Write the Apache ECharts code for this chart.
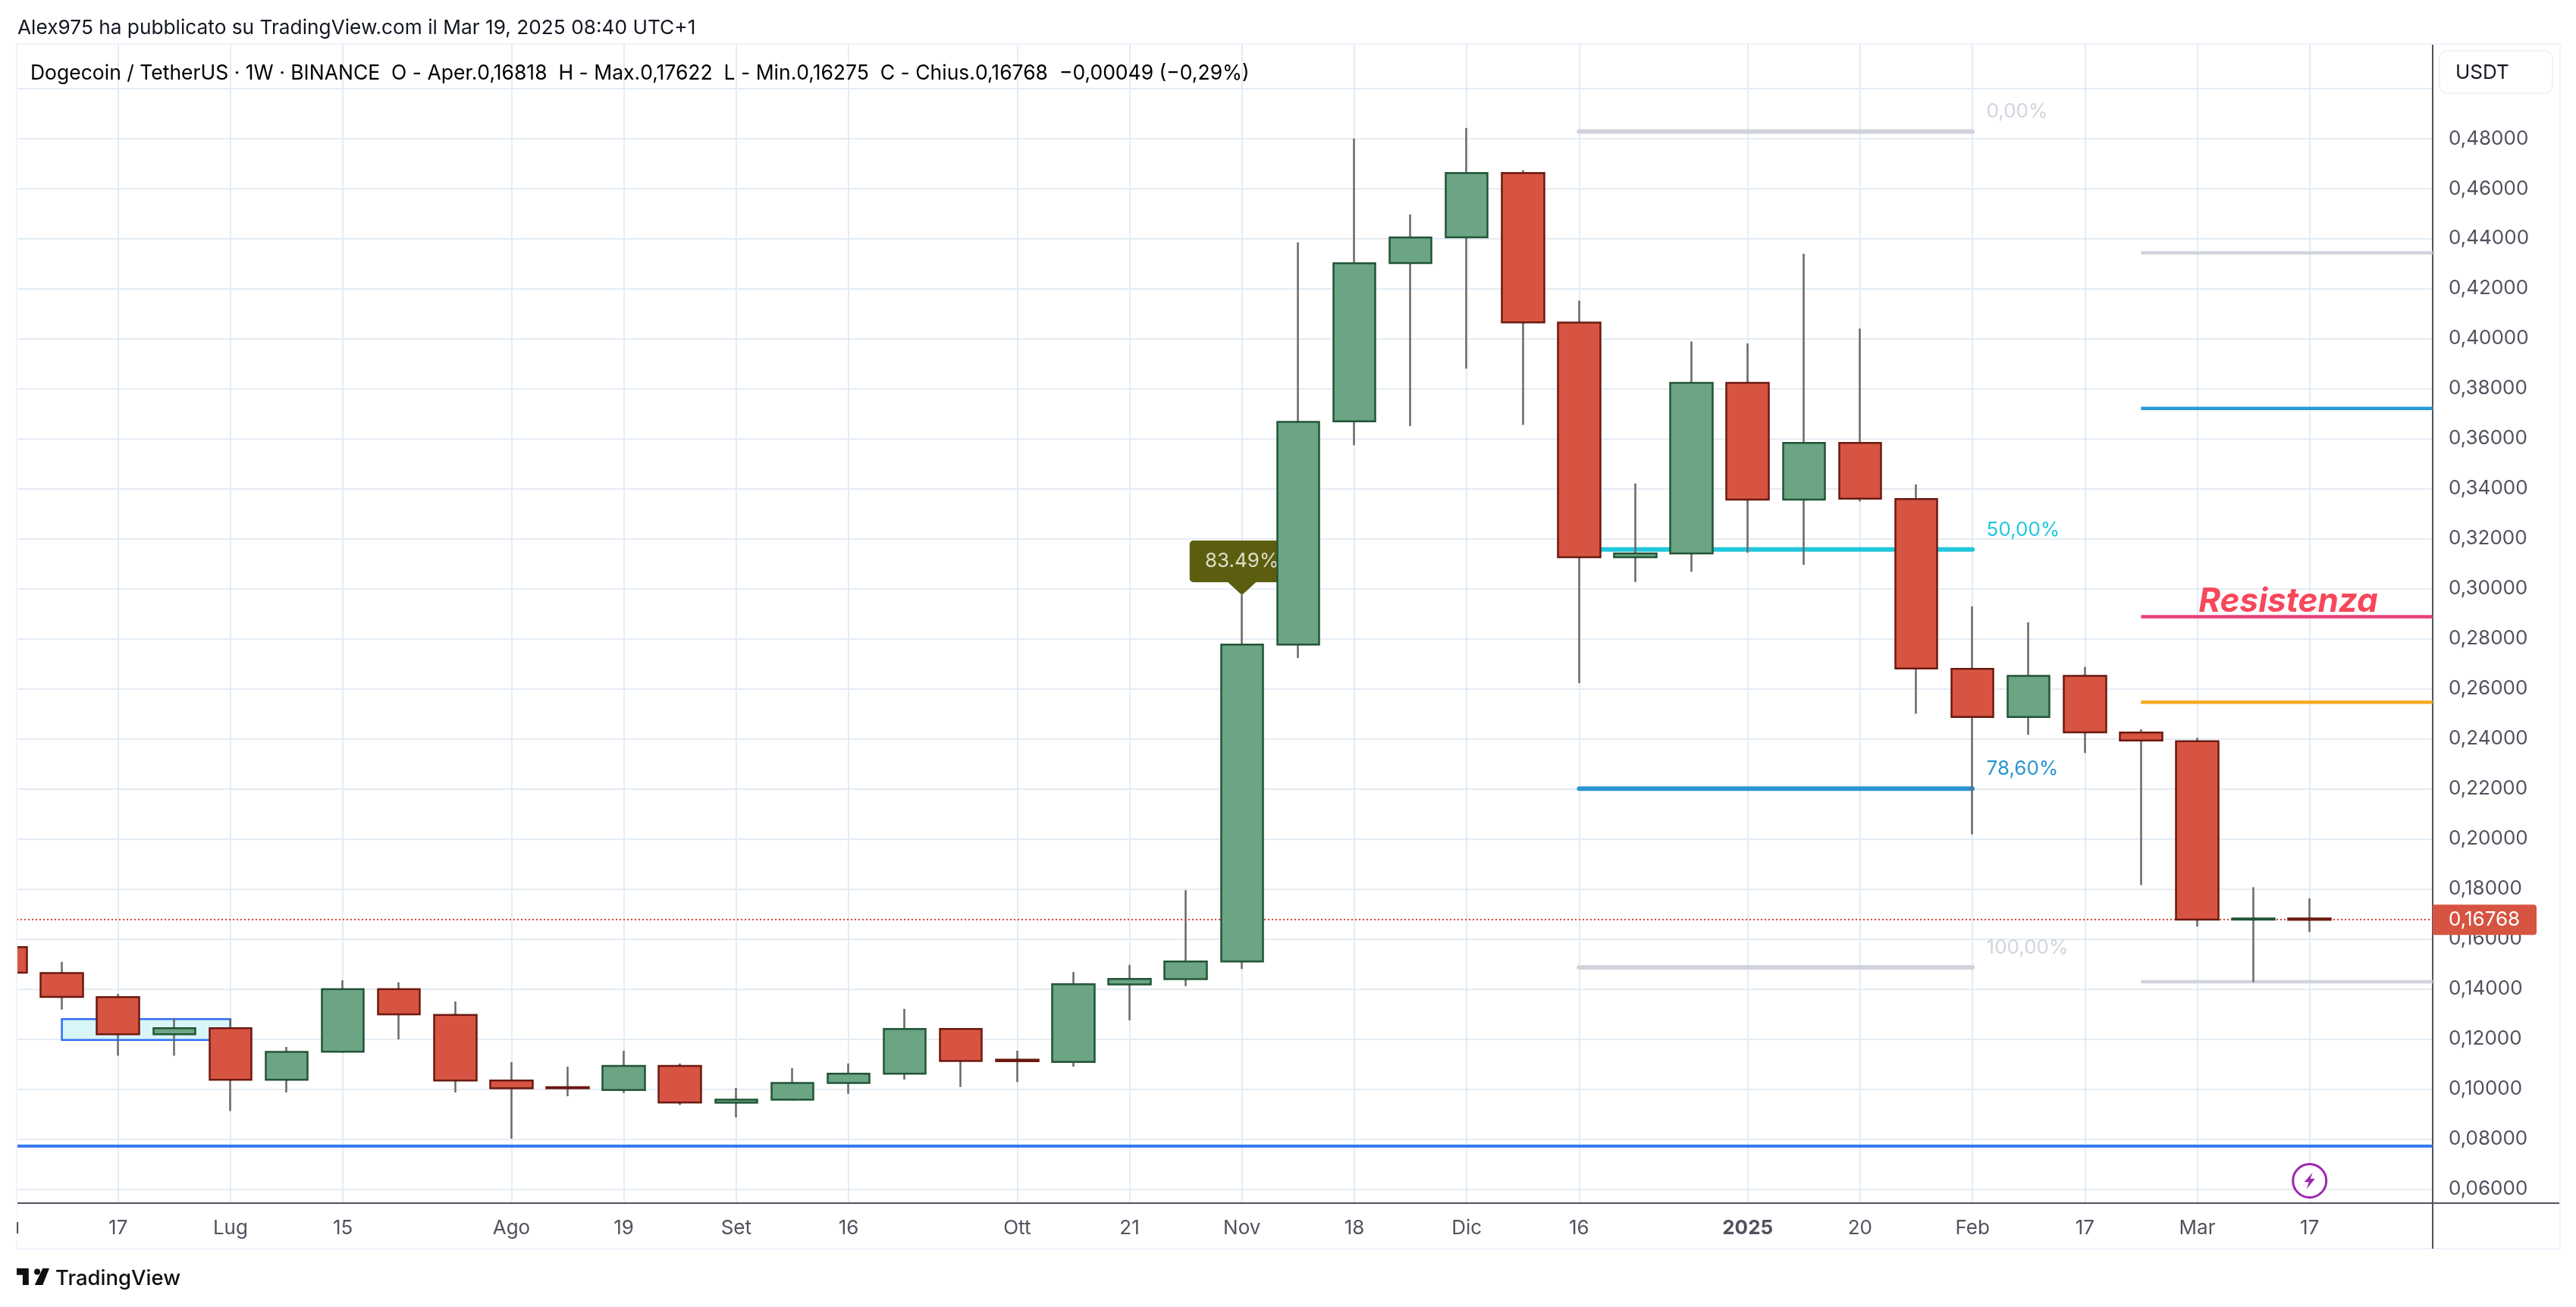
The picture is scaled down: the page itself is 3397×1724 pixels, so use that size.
<!DOCTYPE html>
<html><head><meta charset="utf-8">
<style>html,body{margin:0;padding:0;background:#fff}#c{width:3397px;height:1724px}</style>
<script src="https://cdn.jsdelivr.net/npm/echarts@6/dist/echarts.min.js"></script>
</head><body><div id="c"></div>
<script>
const FONT = 'Inter, "Noto Sans", sans-serif';
const weeks = ['2024-06-03','2024-06-10','2024-06-17','2024-06-24','2024-07-01','2024-07-08','2024-07-15','2024-07-22','2024-07-29','2024-08-05','2024-08-12','2024-08-19','2024-08-26','2024-09-02','2024-09-09','2024-09-16','2024-09-23','2024-09-30','2024-10-07','2024-10-14','2024-10-21','2024-10-28','2024-11-04','2024-11-11','2024-11-18','2024-11-25','2024-12-02','2024-12-09','2024-12-16','2024-12-23','2024-12-30','2025-01-06','2025-01-13','2025-01-20','2025-01-27','2025-02-03','2025-02-10','2025-02-17','2025-02-24','2025-03-03','2025-03-10','2025-03-17'];
const opens  = [.1567,.14635,.1367,.1219,.1243,.1037,.1149,.1399,.1296,.1034,.1007,.0996,.1092,.0945,.0957,.1024,.1061,.1240,.1117,.1108,.1418,.1439,.1510,.2777,.3669,.4302,.4405,.4662,.4064,.3126,.3141,.3823,.3356,.3583,.3359,.2680,.2487,.2652,.2425,.2390,.1677,.16818];
const closes = [.1465,.1368,.1219,.1243,.1037,.1148,.1399,.1298,.1034,.1003,.1003,.1092,.0946,.0957,.1024,.1061,.1240,.1112,.1111,.1419,.1440,.1510,.2777,.3667,.4301,.4404,.4662,.4065,.3126,.3141,.3823,.3356,.3583,.3360,.2681,.2487,.2652,.2426,.2393,.1677,.16818,.16768];
const lows   = [.1455,.1317,.1133,.1133,.0912,.0986,.1145,.1198,.0986,.0801,.0971,.0984,.0936,.0886,.0957,.0981,.1038,.1008,.1028,.1089,.1275,.1411,.1480,.2723,.3574,.3650,.3880,.3655,.2623,.3027,.3068,.3144,.3096,.3349,.2500,.2018,.2416,.2343,.1815,.1650,.1427,.16275];
const highs  = [.1580,.1508,.1380,.1284,.1280,.1168,.1435,.1426,.1350,.1107,.1089,.1153,.1102,.1004,.1083,.1102,.1320,.1244,.1153,.1468,.1496,.1795,.2976,.4385,.4800,.4497,.4842,.4673,.4152,.3421,.3988,.3981,.4339,.4040,.3417,.2930,.2866,.2687,.2438,.2404,.1807,.17622];
const xLabelDates = ['2024-06-17','2024-07-01','2024-07-15','2024-08-05','2024-08-19','2024-09-02','2024-09-16','2024-10-07','2024-10-21','2024-11-04','2024-11-18','2024-12-02','2024-12-16','2025-01-06','2025-01-20','2025-02-03','2025-02-17','2025-03-03','2025-03-17'];
const xLabelTexts = ['17','Lug','15','Ago','19','Set','16','Ott','21','Nov','18','Dic','16','2025','20','Feb','17','Mar','17'];
const yTicks = [.06,.08,.10,.12,.14,.16,.18,.20,.22,.24,.26,.28,.30,.32,.34,.36,.38,.40,.42,.44,.46,.48,.50];
const yLabelTicks = yTicks.slice(0,-1);
const lastPrice = .16768;
const fibLevels = [.4828,.3157,.2201,.1486];
const fibTexts = ['0,00%','50,00%','78,60%','100,00%'];
const fibColors = ['#D1D4DC','#22C7DD','#2A95CF','#D1D4DC'];
const fibSpan = ['2024-12-16','2025-02-03'];
const rayLevels = [.4343,.3721,.2888,.2546,.1429];
const rayColors = ['#D1D4DC','#2A9AD5','#E8407A','#F9A825','#D1D4DC'];
const rayStart = '2025-02-24';
const supportLevel = .0772;
const boxDates = ['2024-06-10','2024-07-01'];
const boxPrices = [.1279,.1196];
const axisMin = 0.1957, axisMax = 43.19;
const bullFill='#6BA583', bullEdge='#225437', bearFill='#D75442', bearEdge='#6B1A11', wick='#68686A';

const X = d => weeks.indexOf(d);
const labelMap = {}; xLabelDates.forEach((d,i)=>{labelMap[X(d)]=xLabelTexts[i]});
const xTickIdx = xLabelDates.map(X);
const wicks = weeks.map((d,i)=>[i,opens[i],closes[i],lows[i],highs[i]]);
const bodies = weeks.map((d,i)=>[i,opens[i],closes[i],Math.min(opens[i],closes[i]),Math.max(opens[i],closes[i])]);
const series = [];
series.push({type:'line',name:'support',silent:true,showSymbol:false,z:1,
  data:[[axisMin,supportLevel],[axisMax,supportLevel]],lineStyle:{color:'#3277F0',width:4},
  markArea:{silent:true,itemStyle:{color:'#D8F5F9',opacity:1,borderColor:'#2F6FF5',borderWidth:2.5},
    data:[[{coord:[X(boxDates[0]),boxPrices[0]]},{coord:[X(boxDates[1]),boxPrices[1]]}]]}});
fibLevels.forEach((v,i)=>series.push({type:'line',silent:true,showSymbol:false,z:2,
  data:[[X(fibSpan[0]),v],[X(fibSpan[1]),v]],lineStyle:{color:fibColors[i],width:6,cap:'round'}}));
rayLevels.forEach((v,i)=>series.push({type:'line',silent:true,showSymbol:false,z:2,
  data:[[X(rayStart),v],[axisMax,v]],lineStyle:{color:rayColors[i],width:4.5}}));
series.push({type:'scatter',silent:true,z:2,symbolSize:1,itemStyle:{color:'transparent'},
  data:fibLevels.map((v,i)=>({value:[X(fibSpan[1]),v],label:{show:true,position:'right',distance:18,offset:[0,-26],
    formatter:fibTexts[i],color:fibColors[i],opacity:1,fontSize:26,fontFamily:FONT}}))});
series.push({type:'scatter',silent:true,z:3,symbol:'triangle',symbolRotate:180,symbolSize:[37,17],symbolOffset:[0,-8],
  itemStyle:{color:'#5D5D10',opacity:1},data:[{value:[X('2024-11-04'),highs[22]],label:{show:true,position:'top',distance:0,
    formatter:'83.49%',color:'#DEDECB',opacity:1,fontSize:26,fontFamily:FONT,backgroundColor:'#5D5D10',borderRadius:5,width:138,height:55,lineHeight:55,align:'center'}}]});
series.push({type:'candlestick',silent:true,z:4,barWidth:2,data:wicks,
  itemStyle:{color:wick,color0:wick,borderColor:wick,borderColor0:wick,borderWidth:2.5}});
series.push({type:'candlestick',silent:true,z:5,barWidth:56,data:bodies,
  itemStyle:{color:bullFill,color0:bearFill,borderColor:bullEdge,borderColor0:bearEdge,borderWidth:2.5},
  markLine:{silent:true,symbol:'none',animation:false,precision:5,
    lineStyle:{color:'#D9472F',type:[2,3],width:2},
    data:[{yAxis:lastPrice}],
    label:{show:true,position:'end',distance:0,formatter:()=>lastPrice.toFixed(5).replace('.',','),color:'#fff',fontSize:26,fontFamily:FONT,
      backgroundColor:bearFill,padding:[6,0,6,21],width:116,lineHeight:28,borderRadius:[0,4,4,0]}}});
series.push({type:'scatter',silent:true,z:6,symbolSize:1,itemStyle:{color:'transparent'},
  data:[{value:[X('2025-03-10')+0.62,.2947],label:{show:true,position:'inside',formatter:'Resistenza',color:'#F7475A',opacity:1,fontSize:44,fontWeight:'bold',fontStyle:'italic',fontFamily:FONT}}]});
series.push({type:'scatter',silent:true,z:6,symbol:'circle',symbolSize:44,itemStyle:{color:'#fff',opacity:1,borderColor:'#9C27B0',borderWidth:3},data:[[X('2025-03-17'),.0633]]});
series.push({type:'scatter',silent:true,z:7,symbol:'path://M14 0 L3 14 H9 L6 24 L17 9 H11 Z',symbolSize:[14,22],itemStyle:{color:'#9C27B0',opacity:1},data:[[X('2025-03-17'),.0633]]});

const legendRich={g:{fontSize:26.5,color:'#50535E',fontFamily:FONT},r:{fontSize:26.5,color:'#6B1A11',fontFamily:FONT}};
const legendText='{g|Dogecoin / TetherUS · 1W · BINANCE  O - Aper.}{r|0,16818}{g|  H - Max.}{r|0,17622}{g|  L - Min.}{r|0,16275}{g|  C - Chius.}{r|0,16768}{r|  −0,00049 (−0,29%)}';
const chrome='#F0F3FA', axisC='#50535E';
const logoT=[[2,6],[14,6],[14,21],[8,21],[8,12],[2,12]], logoV=[[20,21],[28,21],[34.6,6],[28,6]];
const logoPt=p=>[22+(p[0]-2)*1.319,1673+(p[1]-6)*1.467];
const chart=echarts.init(document.getElementById('c'),null,{renderer:'canvas'});
chart.setOption({
  animation:false,backgroundColor:'#fff',
  grid:{left:22,right:189,top:58,bottom:137.3,containLabel:false},
  xAxis:{type:'value',min:axisMin,max:axisMax,scale:true,
    axisLine:{show:true,onZero:false,lineStyle:{color:axisC,width:2}},
    axisTick:{show:false,customValues:xTickIdx},
    splitLine:{show:true,showMinLine:true,showMaxLine:true,lineStyle:{color:'#E4ECF3',width:2}},
    axisLabel:{customValues:xTickIdx,margin:20,hideOverlap:false,showMinLabel:true,showMaxLabel:true,
      color:axisC,fontSize:26,fontFamily:FONT,
      formatter:v=>{const t=labelMap[v]||'';return t==='2025'?'{b|2025}':t},
      rich:{b:{fontWeight:'bold',fontSize:26,color:axisC,fontFamily:FONT}}}},
  yAxis:{type:'value',position:'right',min:.05445,max:.5178,scale:true,
    axisLine:{show:true,onZero:false,lineStyle:{color:axisC,width:2}},
    axisTick:{show:false,customValues:yTicks},
    splitLine:{show:true,showMinLine:true,showMaxLine:true,lineStyle:{color:'#E4ECF3',width:2}},
    axisLabel:{customValues:yLabelTicks,margin:21,showMinLabel:true,showMaxLabel:true,color:axisC,fontSize:26,fontFamily:FONT,
      formatter:v=>v.toFixed(5).replace('.',',')}},
  series,
  graphic:[
    {type:'text',z:100,left:23,top:24,style:{text:'Alex975 ha pubblicato su TradingView.com il Mar 19, 2025 08:40 UTC+1',fontSize:26.25,fill:'#131722',fontFamily:FONT}},
    {type:'text',z:100,left:40,top:84,style:{text:legendText,rich:legendRich,fontFamily:FONT,fontSize:26.5}},
    {type:'rect',z:92,shape:{x:0,y:59,width:21,height:1527},style:{fill:'#fff'}},
    {type:'rect',z:90,shape:{x:22,y:57,width:3353,height:2},style:{fill:chrome}},
    {type:'rect',z:93,shape:{x:21,y:57,width:2,height:1590},style:{fill:chrome}},
    {type:'rect',z:90,shape:{x:3375,y:57,width:2,height:1590},style:{fill:chrome}},
    {type:'rect',z:90,shape:{x:22,y:1646,width:3355,height:2},style:{fill:chrome}},
    {type:'rect',z:90,shape:{x:3208,y:1586,width:167,height:2},style:{fill:axisC}},
    {type:'rect',z:90,shape:{x:3207,y:1587,width:2,height:60},style:{fill:axisC}},
    {type:'text',z:95,left:-15,top:1606,style:{text:'Giu',fontSize:26,fill:axisC,fontFamily:FONT}},
    {type:'rect',z:96,shape:{x:0,y:1590,width:22,height:50},style:{fill:'#fff'}},
    {type:'rect',z:90,shape:{x:3217,y:67,width:149,height:56,r:10},style:{fill:'#fff',stroke:chrome,lineWidth:2}},
    {type:'text',z:95,left:3238,top:83,style:{text:'USDT',fontSize:26,fill:'#131722',fontFamily:FONT}},
    {type:'polygon',z:95,shape:{points:logoT.map(logoPt)},style:{fill:'#0F0F0F'}},
    {type:'polygon',z:95,shape:{points:logoV.map(logoPt)},style:{fill:'#0F0F0F'}},
    {type:'circle',z:95,shape:{cx:logoPt([22.5,9])[0],cy:logoPt([22.5,9])[1],r:4},style:{fill:'#0F0F0F'}},
    {type:'text',z:95,left:73,top:1673,style:{text:'TradingView',fontSize:27.5,fontWeight:500,fill:'#0F0F0F',fontFamily:FONT}}
  ]
});
</script></body></html>
